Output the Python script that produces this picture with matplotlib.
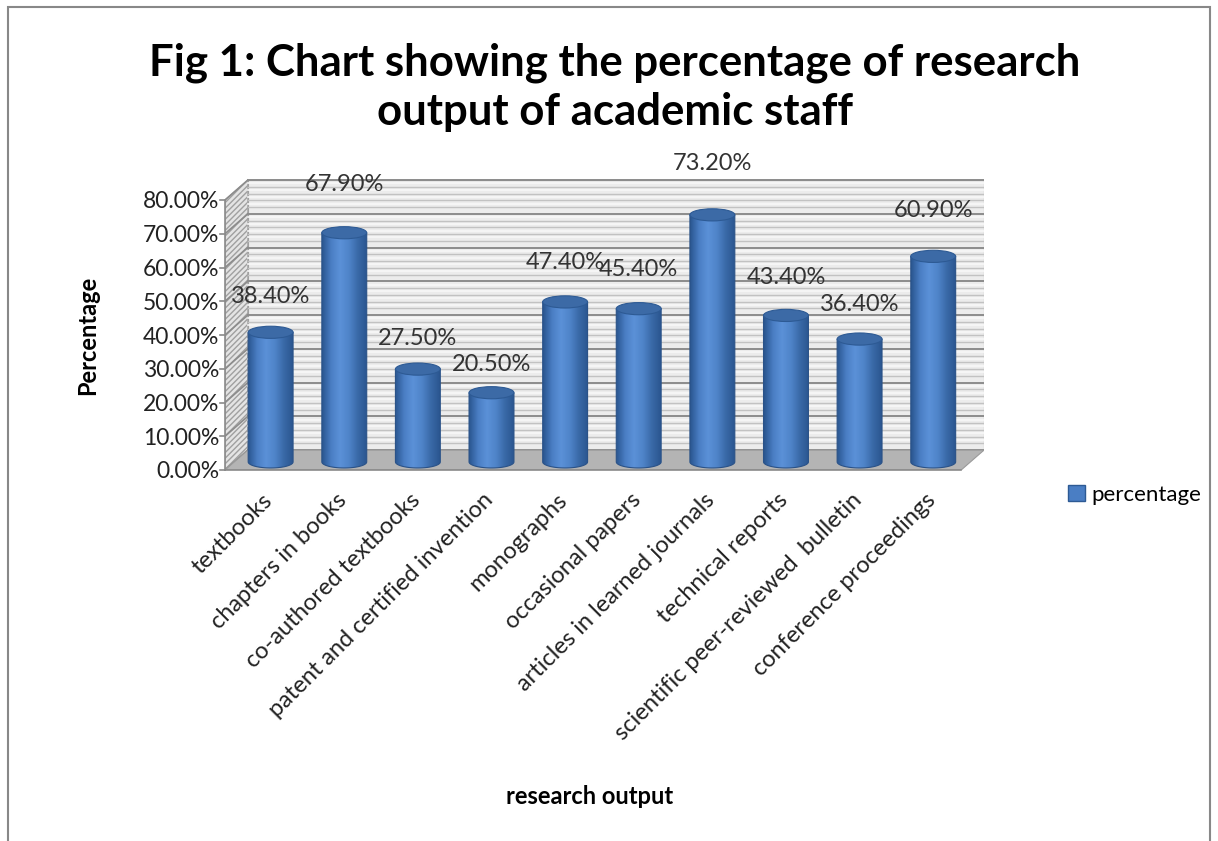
import matplotlib
matplotlib.use("Agg")
import matplotlib.pyplot as plt
import matplotlib.transforms as mtransforms
from matplotlib.patches import Polygon, Ellipse, PathPatch, Patch
from matplotlib.path import Path
from matplotlib.colors import LinearSegmentedColormap
import numpy as np

plt.rcParams['font.family'] = ['Lato', 'DejaVu Sans']
plt.rcParams['hatch.color'] = "#b8b8b8"

categories = ["textbooks", "chapters in books", "co-authored textbooks",
              "patent and certified invention", "monographs", "occasional papers",
              "articles in learned journals", "technical reports",
              "scientific peer-reviewed  bulletin", "conference proceedings"]
values = [38.4, 67.9, 27.5, 20.5, 47.4, 45.4, 73.2, 43.4, 36.4, 60.9]
yticks = [0, 10, 20, 30, 40, 50, 60, 70, 80]

title = "Fig 1: Chart showing the percentage of research\noutput of academic staff"
series_name = "percentage"

# 3d look parameters (data units)
depth_x, depth_y = 0.31, 5.9     # back wall offset
bar_dx, bar_dy = 0.12, 2.4       # where cylinders stand on the floor
bar_w, ell_h = 0.61, 3.6

fig = plt.figure(figsize=(12.18, 8.41), dpi=100)
# axes: x from -0.5 (px 225) to 9.81 (px 984); y 0 at px 470, 3.375 px per %
ax = fig.add_axes([225 / 1218, (841 - 470) / 841, (984 - 225) / 1218, 88 * 3.375 / 841])
ax.set_xlim(-0.5, 9.5 + depth_x)
ax.set_ylim(0, 88)
for s in ax.spines.values():
    s.set_visible(False)

x0, x1 = -0.5, 9.5
top = yticks[-1]

# back wall
ax.add_patch(Polygon([(x0 + depth_x, depth_y), (x1 + depth_x, depth_y),
                      (x1 + depth_x, top + depth_y), (x0 + depth_x, top + depth_y)],
                     closed=True, facecolor="#ececec", edgecolor="#a0a0a0", lw=0.8, zorder=1))
# left side wall
ax.add_patch(Polygon([(x0, 0), (x0 + depth_x, depth_y), (x0 + depth_x, top + depth_y), (x0, top)],
                     closed=True, facecolor="#e4e4e4", edgecolor="#a0a0a0", lw=0.8,
                     hatch="//////", zorder=1))
# floor
ax.add_patch(Polygon([(x0, 0), (x1, 0), (x1 + depth_x, depth_y), (x0 + depth_x, depth_y)],
                     closed=True, facecolor="#b4b4b4", edgecolor="#9a9a9a", lw=0.8, zorder=2))

# stripes and grid lines on walls
for v in np.arange(0, top + 0.01, 2):
    major = (v % 10 == 0)
    ax.plot([x0 + depth_x, x1 + depth_x], [v + depth_y, v + depth_y],
            color="#8c8c8c" if major else "#c2c2c2", lw=1.4 if major else 1.0, zorder=1.5)
    if major:
        ax.plot([x0, x0 + depth_x], [v, v + depth_y], color="#8c8c8c", lw=1.2, zorder=1.5)
    else:
        ax.plot([x0 + depth_x, x1 + depth_x], [v + 1 + depth_y, v + 1 + depth_y],
                color="#f7f7f7", lw=1.2, zorder=1.5)

# front axes lines
ax.plot([x0, x0], [0, top], color="#8a8a8a", lw=1.2, zorder=3, clip_on=False)
ax.plot([x0, x1], [0, 0], color="#8a8a8a", lw=1.2, zorder=3, clip_on=False)
for v in yticks:
    ax.plot([x0 - 0.07, x0], [v, v], color="#8a8a8a", lw=1.2, zorder=3, clip_on=False)

cmap = LinearSegmentedColormap.from_list("cyl", ["#2a5690", "#4a7ec4", "#5b91d8", "#4f84c9",
                                                 "#3a6aa8", "#2b5690"])
grad = np.linspace(0, 1, 64).reshape(1, -1)
theta = np.linspace(np.pi, 2 * np.pi, 40)

for i, v in enumerate(values):
    cx = i + bar_dx
    base = bar_dy
    ytop = v + bar_dy
    hw = bar_w / 2
    arc = np.column_stack([cx + hw * np.cos(theta), base + ell_h / 2 * np.sin(theta)])
    verts = np.vstack([[cx - hw, ytop], arc, [cx + hw, ytop], [cx - hw, ytop]])
    body = Path(verts, closed=True)
    ax.add_patch(PathPatch(body, facecolor="none", edgecolor="#2a5288", lw=0.8, zorder=5))
    im = ax.imshow(grad, cmap=cmap, extent=(cx - hw, cx + hw, base - ell_h, ytop),
                   aspect="auto", zorder=4, interpolation="bicubic")
    im.set_clip_path(PathPatch(body, transform=ax.transData))
    ax.add_patch(Ellipse((cx, ytop), bar_w, ell_h, facecolor="#3c6aa6",
                         edgecolor="#2d5a94", lw=0.8, zorder=6))
    # data label
    ax.text(cx, v + 8 + 0.13 * v, f"{v:.2f}%", ha="center", va="center",
            fontsize=17, color="#333333", zorder=7, clip_on=False)

ax.set_xticks(range(len(categories)))
ax.set_xticklabels(categories, rotation=45, ha="right", rotation_mode="anchor",
                   fontsize=17, color="#222222")
offset = mtransforms.ScaledTranslation(-0.14, -0.04, fig.dpi_scale_trans)
for lab in ax.get_xticklabels():
    lab.set_transform(lab.get_transform() + offset)
ax.tick_params(axis="x", length=0, pad=14)
ax.set_yticks(yticks)
ax.set_yticklabels([f"{v:.2f}%" for v in yticks], fontsize=16.5, color="#222222")
ax.tick_params(axis="y", length=0, pad=4)

fig.text(0.505, 1 - 87 / 841, title, ha="center", va="center", fontsize=31.5, fontweight="bold",
         linespacing=1.28)
fig.text(88 / 1218, 1 - 335 / 841, "Percentage", rotation=90, ha="center", va="center",
         fontsize=17, fontweight="bold")
fig.text(590 / 1218, 1 - 797 / 841, "research output", ha="center", va="center",
         fontsize=17, fontweight="bold")

# legend
fig.legend(handles=[Patch(facecolor="#4a7ec4", edgecolor="#2d5a94", label=series_name)],
           loc="center left", bbox_to_anchor=(1048 / 1218, 1 - 495 / 841), frameon=False,
           fontsize=16, handlelength=0.75, handleheight=0.75, handletextpad=0.3)

# outer frame
fig.add_artist(plt.Rectangle((8 / 1218, -0.05), 1202 / 1218, 1.05 - 7 / 841,
                             transform=fig.transFigure, fill=False, edgecolor="#888888", lw=1.5))

fig.savefig("out.png", dpi=100)
